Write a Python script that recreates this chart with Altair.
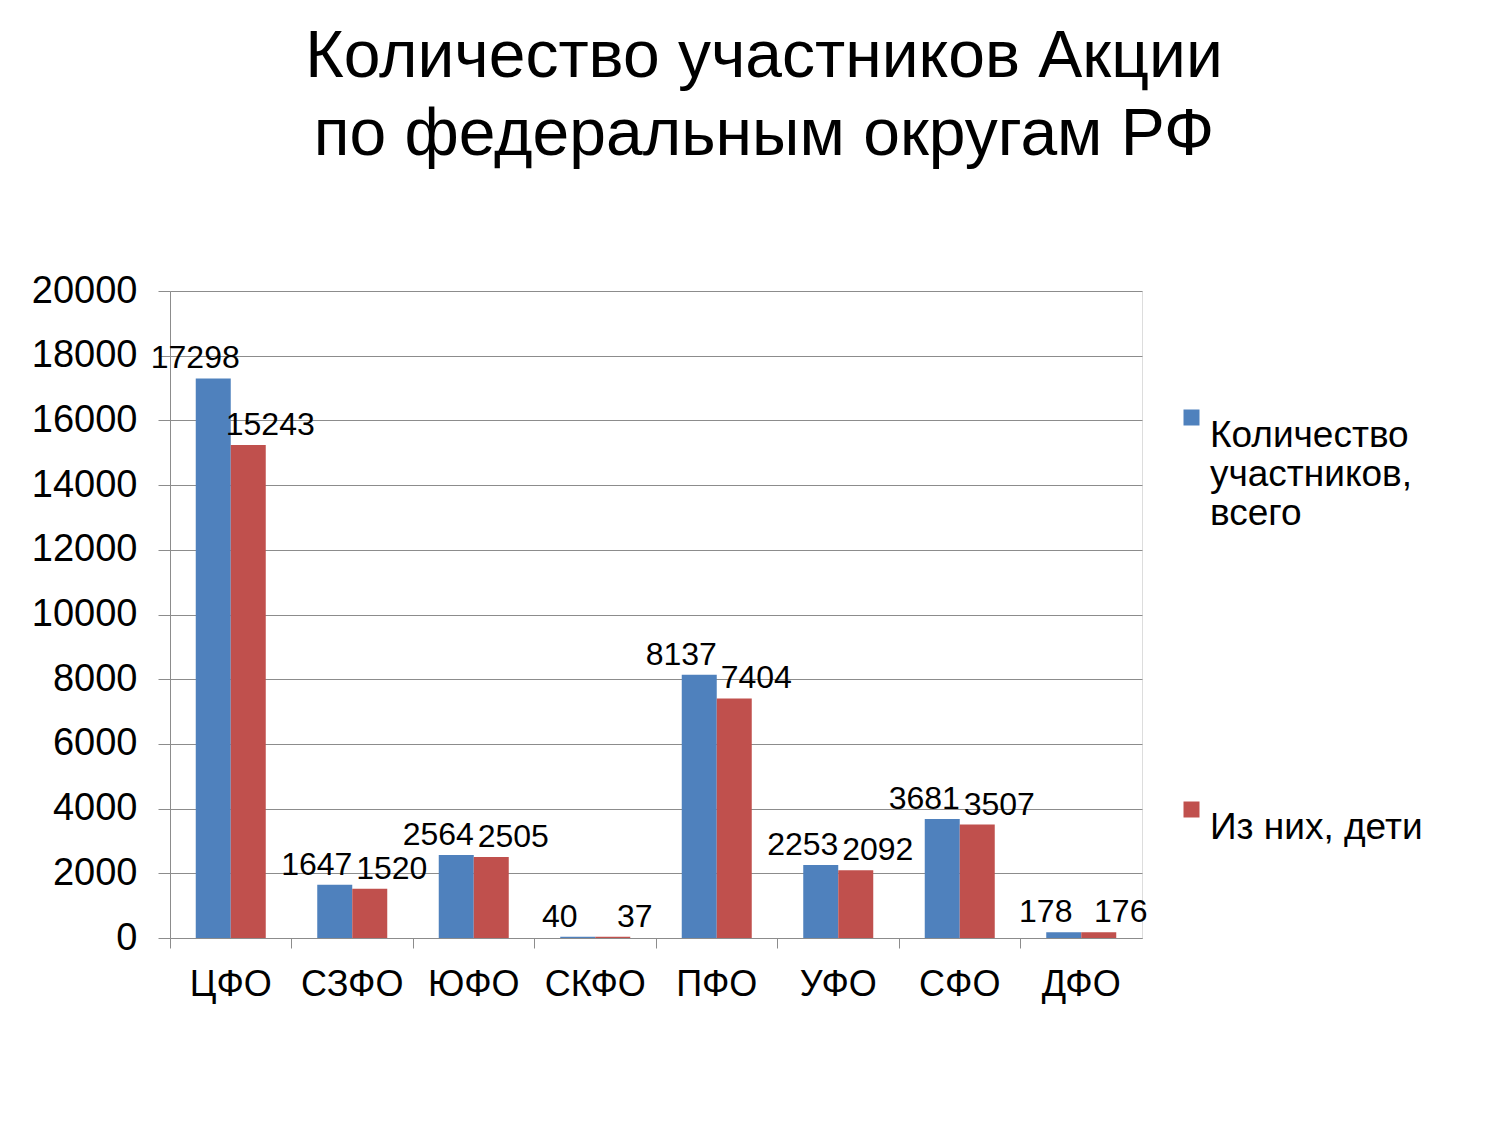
import altair as alt
import pandas as pd

categories = ["ЦФО", "СЗФО", "ЮФО", "СКФО", "ПФО", "УФО", "СФО", "ДФО"]
total = [17298, 1647, 2564, 40, 8137, 2253, 3681, 178]
children = [15243, 1520, 2505, 37, 7404, 2092, 3507, 176]
series_names = ["Количество участников, всего", "Из них, дети"]
y_ticks = list(range(0, 20001, 2000))

rows = []
for c, t, k in zip(categories, total, children):
    rows.append({"cat": c, "series": series_names[0], "value": t})
    rows.append({"cat": c, "series": series_names[1], "value": k})
df = pd.DataFrame(rows)

FONT = "Liberation Sans"
GRAY = "#8c8c8c"

x_enc = alt.X("cat:N", sort=categories, title=None,
              scale=alt.Scale(paddingInner=0, paddingOuter=0),
              axis=alt.Axis(bandPosition=0, labelAngle=0,
                            labelFontSize=36, labelFont=FONT, labelColor="#000000",
                            labelPadding=19, tickSize=10, tickColor=GRAY,
                            domainColor=GRAY, grid=False, labelBaseline="top"))
xo_enc = alt.XOffset("series:N", sort=series_names,
                     scale=alt.Scale(paddingInner=0, paddingOuter=0.7357))
y_enc = alt.Y("value:Q", title=None,
              scale=alt.Scale(domain=[0, 20000], nice=False),
              axis=alt.Axis(values=y_ticks, format="d", labelFontSize=38, labelFont=FONT,
                            labelColor="#000000", labelPadding=21, tickSize=12,
                            tickColor=GRAY, domainColor=GRAY, gridColor=GRAY,
                            grid=True))

color_enc = alt.Color("series:N", sort=series_names,
                      scale=alt.Scale(domain=series_names, range=["#4F81BD", "#C0504D"]),
                      legend=alt.Legend(title=None, orient="none", legendX=1003, legendY=108,
                                        symbolType="square", symbolSize=256,
                                        symbolStrokeWidth=0, labelFontSize=37,
                                        labelFont=FONT, labelColor="#000000",
                                        labelOffset=0, rowPadding=259,
                                        labelLimit=400, labelBaseline="top",
                                        labelExpr="datum.label == 'Количество участников, всего' ? ['Количество', 'участников,', 'всего'] : datum.label"))

base = alt.Chart(df)
bars = base.mark_bar(size=35).encode(x=x_enc, xOffset=xo_enc, y=y_enc, color=color_enc)

lab_blue = base.transform_filter(alt.datum.series == series_names[0]).mark_text(
    font=FONT, fontSize=32, baseline="alphabetic", dy=-10, dx=-18, color="#000000"
).encode(x=x_enc, xOffset=xo_enc, y=y_enc, text="value:Q")
lab_red = base.transform_filter(alt.datum.series == series_names[1]).mark_text(
    font=FONT, fontSize=32, baseline="alphabetic", dy=-10, dx=22, color="#000000"
).encode(x=x_enc, xOffset=xo_enc, y=y_enc, text="value:Q")

chart = alt.layer(bars, lab_blue, lab_red).properties(
    width=972, height=647,
    title=alt.TitleParams(["Количество участников Акции", "по федеральным округам РФ"],
                          font=FONT, fontSize=66, fontWeight="normal", color="#000000",
                          anchor="middle", dx=108, offset=103, lineHeight=78),
    autosize=alt.AutoSizeParams(type="none"),
    padding={"left": 162, "top": 283, "right": 350, "bottom": 150},
).configure_view(stroke=None).configure(background="white")

chart.save("out.html", embed_options={"renderer": "svg", "actions": False})
